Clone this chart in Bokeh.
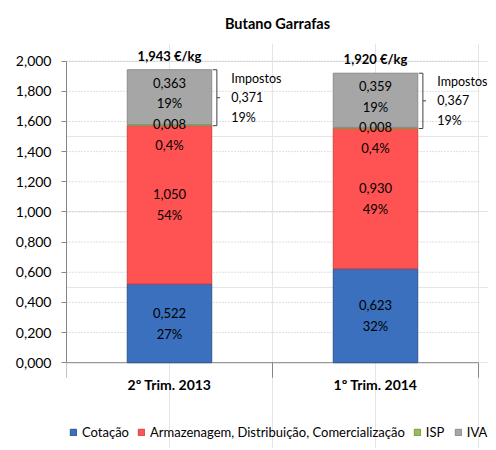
from bokeh.plotting import figure
from bokeh.models import (ColumnDataSource, Range1d, LinearAxis, FixedTicker,
                          CustomJSTickFormatter, Legend, LegendItem)
from bokeh.core.properties import value
from bokeh.embed import file_html
from bokeh.resources import INLINE

# ---------------- data ----------------
categories = ["2º Trim. 2013", "1º Trim. 2014"]
series_names = ["Cotação", "Armazenagem, Distribuição, Comercialização", "ISP", "IVA"]
cotacao = [0.522, 0.623]
armazenagem = [1.050, 0.930]
isp = [0.008, 0.008]
iva = [0.363, 0.359]
cotacao_pct = ["27%", "32%"]
armazenagem_pct = ["54%", "49%"]
isp_pct = ["0,4%", "0,4%"]
iva_pct = ["19%", "19%"]
impostos_pct = ["19%", "19%"]
y_ticks = [0.0, 0.2, 0.4, 0.6, 0.8, 1.0, 1.2, 1.4, 1.6, 1.8, 2.0]
unit = "€/kg"
colors = ["#3A70BD", "#FF5252", "#9BBB59", "#A6A6A6"]
edge_colors = ["#2C5590", "#D94040", "#7A9A40", "#8C8C8C"]

FONT = "Lato"
W, H = 490, 448
BAR_W = 0.41
n = len(categories)

def fmt(v):
    return f"{v:.3f}".replace(".", ",")

totals = [a + b + c + d for a, b, c, d in zip(cotacao, armazenagem, isp, iva)]
impostos = [c + d for c, d in zip(isp, iva)]
xc = [i + 0.5 for i in range(n)]  # category centres

p = figure(x_range=Range1d(0, n + 0.0485), y_range=Range1d(-0.569, 2.117), width=W, height=H,
           output_backend="svg", toolbar_location=None,
           x_axis_location=None, y_axis_location=None,
           min_border_left=66, min_border_right=2, min_border_top=43, min_border_bottom=0,
           outline_line_color=None)

p.title.text = "Butano Garrafas"
p.title.align = "center"
p.title.standoff = 23
p.title.text_font = FONT
p.title.text_font_size = "14.5px"
p.title.text_font_style = "bold"
p.title.text_color = "#000000"

# gridlines, limited to the plot area of the categories
grid_y = [t for t in y_ticks if t > 0]
p.segment(x0=[0] * len(grid_y), x1=[n] * len(grid_y), y0=grid_y, y1=grid_y,
          line_color="#BFBFBF", line_dash="1 2", line_width=1)

yaxis = LinearAxis(ticker=FixedTicker(ticks=y_ticks), bounds=(0, 2),
                   formatter=CustomJSTickFormatter(code="return tick.toFixed(3).replace('.', ',');"),
                   axis_line_color="#868686", major_tick_line_color="#868686",
                   major_tick_out=5, major_tick_in=0, minor_tick_line_color=None,
                   major_label_standoff=10, major_label_text_font=FONT,
                   major_label_text_font_size="14px", major_label_text_color="#000000")
p.add_layout(yaxis, "left")

# category axis line, separators and labels
p.segment(x0=[0], x1=[n], y0=[0], y1=[0], line_color="#868686", line_width=1)
sep = list(range(n + 1))
p.segment(x0=sep, x1=sep, y0=[-0.1] * len(sep), y1=[0] * len(sep),
          line_color="#868686", line_width=1)
p.text(x=xc, y=[0] * n, text=categories, y_offset=22, text_align="center",
       text_baseline="middle", text_font=value(FONT), text_font_size="14px",
       text_font_style="bold", text_color="#000000")

src = ColumnDataSource(dict(x=xc, cot=cotacao, arm=armazenagem, isp=isp, iva=iva))
keys = ["cot", "arm", "isp", "iva"]
rs = p.vbar_stack(keys, x="x", width=BAR_W, source=src, fill_color=colors,
                  line_color=edge_colors, line_width=1)

# segment labels
lab_x, lab_y, lab_t, lab_off = [], [], [], []
for i in range(n):
    b1 = cotacao[i]
    b2 = b1 + armazenagem[i]
    b3 = b2 + isp[i]
    lab_x += [xc[i]] * 4
    lab_y += [b1 / 2, b1 + armazenagem[i] / 2, b3, b3 + iva[i] / 2]
    lab_t += [f"{fmt(cotacao[i])}\n{cotacao_pct[i]}",
              f"{fmt(armazenagem[i])}\n{armazenagem_pct[i]}",
              f"{fmt(isp[i])}\n{isp_pct[i]}",
              f"{fmt(iva[i])}\n{iva_pct[i]}"]
    lab_off += [0, 0, 10, -4]
lsrc = ColumnDataSource(dict(x=lab_x, y=lab_y, t=lab_t, off=lab_off))
p.text(x="x", y="y", text="t", y_offset="off", source=lsrc, text_align="center",
       text_baseline="middle", text_font=value(FONT), text_font_size="13px",
       text_color="#000000", text_line_height=1.3)

# totals
p.text(x=xc, y=totals, text=[f"{fmt(t)} {unit}" for t in totals], y_offset=-6,
       text_align="center", text_baseline="bottom", text_font=value(FONT),
       text_font_size="13px", text_font_style="bold", text_color="#000000")

# tax brackets
BO = BAR_W / 2 + 0.025
bx = [x + BO for x in xc]
bx_l = [x - 0.02 for x in bx]
bx_r = [x + 0.015 for x in bx]
btop = totals
bbot = [t - m for t, m in zip(totals, impostos)]
bmid = [(a + b) / 2 for a, b in zip(btop, bbot)]
bc = "#404040"
p.segment(x0=bx, x1=bx, y0=bbot, y1=btop, line_color=bc, line_width=1)
p.segment(x0=bx_l, x1=bx, y0=btop, y1=btop, line_color=bc, line_width=1)
p.segment(x0=bx_l, x1=bx, y0=bbot, y1=bbot, line_color=bc, line_width=1)
p.segment(x0=bx, x1=bx_r, y0=bmid, y1=bmid, line_color=bc, line_width=1)
p.text(x=[x + 0.30 for x in xc], y=bmid,
       text=[f"Impostos\n{fmt(m)}\n{pc}" for m, pc in zip(impostos, impostos_pct)],
       text_align="left", text_baseline="middle",
       text_font=value(FONT), text_font_size="12.5px", text_color="#000000",
       text_line_height=1.3)

legend = Legend(items=[LegendItem(label=s, renderers=[r]) for s, r in zip(series_names, rs)],
                orientation="horizontal", location=(3, 8),
                glyph_width=8, glyph_height=8, label_standoff=5, spacing=8,
                label_text_font=FONT, label_text_font_size="13px", label_text_color="#000000",
                border_line_color=None, background_fill_alpha=0, padding=0, margin=0)
p.add_layout(legend)

open("out.html", "w").write(file_html(p, INLINE))
